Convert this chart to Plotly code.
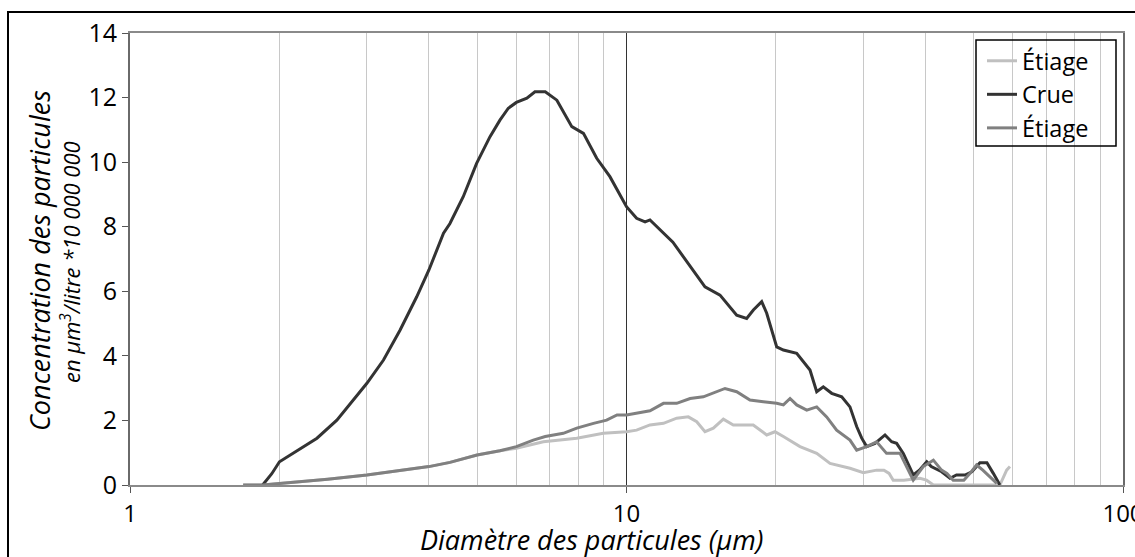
import plotly.graph_objects as go

# Particle size distributions (diameter in µm, concentration in µm³/litre ×10 000 000)
etiage1_d = [1.69, 1.85, 2.0, 2.5, 3.0, 3.5, 4.0, 4.41, 5.0, 5.56, 6.0, 6.8, 7.94, 8.98,
             10.0, 10.48, 11.15, 11.87, 12.62, 13.32, 13.85, 14.39, 14.96, 15.67, 16.41,
             17.19, 18.0, 19.16, 19.91, 20.7, 22.36, 24.16, 25.7, 28.19, 30.0, 31.9, 33.0,
             33.8, 34.45, 36.2, 39.0, 40.2, 41.5, 56.5, 58.3, 59.2]
etiage1_v = [0.0, 0.0, 0.05, 0.18, 0.31, 0.44, 0.57, 0.70, 0.93, 1.06, 1.14, 1.34, 1.45, 1.60,
             1.65, 1.70, 1.86, 1.91, 2.07, 2.11, 1.96, 1.65, 1.76, 2.04, 1.86,
             1.86, 1.86, 1.55, 1.65, 1.50, 1.19, 0.98, 0.67, 0.52, 0.38, 0.46, 0.46,
             0.36, 0.15, 0.15, 0.21, 0.15, 0.0, 0.0, 0.46, 0.57]

crue_d = [1.85, 1.93, 2.0, 2.13, 2.38, 2.61, 2.82, 3.0, 3.24, 3.5, 3.78, 4.0, 4.28, 4.41,
          4.69, 4.99, 5.31, 5.56, 5.78, 6.0, 6.3, 6.54, 6.86, 7.24, 7.76, 8.19, 8.71, 9.26,
          10.0, 10.48, 10.9, 11.15, 12.4, 13.43, 14.39, 15.43, 16.67, 17.46, 18.01, 18.72,
          19.16, 20.07, 20.7, 22.02, 23.42, 24.16, 24.91, 25.9, 27.13, 28.19, 29.08, 29.77,
          30.46, 31.66, 33.16, 34.2, 35.0, 36.1, 37.8, 38.9, 40.24, 41.1, 43.13, 44.83,
          46.2, 48.06, 49.6, 51.5, 53.2, 54.8, 56.5]
crue_v = [0.0, 0.35, 0.72, 0.98, 1.45, 2.01, 2.63, 3.15, 3.87, 4.80, 5.83, 6.66, 7.80, 8.10,
          8.93, 9.96, 10.79, 11.30, 11.67, 11.85, 11.98, 12.18, 12.18, 11.92, 11.10, 10.89, 10.12, 9.55,
          8.62, 8.26, 8.15, 8.21, 7.52, 6.78, 6.14, 5.88, 5.26, 5.16, 5.42, 5.68,
          5.32, 4.28, 4.18, 4.08, 3.56, 2.89, 3.04, 2.84, 2.73, 2.42, 1.81, 1.45,
          1.19, 1.29, 1.55, 1.34, 1.29, 0.98, 0.31, 0.46, 0.72, 0.57, 0.41, 0.21,
          0.31, 0.31, 0.41, 0.69, 0.69, 0.36, 0.0]

etiage2_d = [1.69, 1.85, 2.0, 2.5, 3.0, 3.5, 4.0, 4.41, 5.0, 5.56, 6.0, 6.49, 6.86, 7.46,
             7.94, 8.58, 9.12, 9.57, 10.0, 11.15, 11.87, 12.62, 13.43, 14.28, 15.19, 15.79,
             16.67, 17.73, 18.86, 20.07, 20.7, 21.35, 22.02, 23.07, 24.16, 25.3, 26.5, 28.19,
             29.08, 30.46, 31.9, 33.4, 35.56, 37.24, 37.8, 39.6, 41.5, 43.1, 44.2, 45.5,
             47.8, 49.2, 50.7, 52.2, 53.8, 55.7]
etiage2_v = [0.0, 0.0, 0.05, 0.18, 0.31, 0.44, 0.57, 0.70, 0.93, 1.06, 1.19, 1.39, 1.50, 1.60,
             1.76, 1.91, 2.01, 2.17, 2.17, 2.30, 2.53, 2.53, 2.68, 2.73, 2.89, 2.99,
             2.89, 2.63, 2.58, 2.53, 2.48, 2.68, 2.48, 2.32, 2.42, 2.11, 1.70, 1.39,
             1.08, 1.19, 1.34, 0.98, 0.98, 0.36, 0.15, 0.57, 0.77, 0.46, 0.36, 0.15,
             0.15, 0.36, 0.62, 0.46, 0.26, 0.05]

major_ticks = [1, 10, 100]
minor_ticks = [2, 3, 4, 5, 6, 7, 8, 9, 20, 30, 40, 50, 60, 70, 80, 90]
y_ticks = [0, 2, 4, 6, 8, 10, 12, 14]

FONT = "Open Sans"

# Plot area in pixels: x 130..1123, y 33..485
PX_L, PX_R, PX_T, PX_B = 130, 1123, 33, 485
def px(x):
    return (x - PX_L) / (PX_R - PX_L)
def py(y):
    return (PX_B - y) / (PX_B - PX_T)

fig = go.Figure()
fig.add_trace(go.Scatter(x=etiage1_d, y=etiage1_v, mode="lines", name="Étiage",
                         line=dict(color="#c0c0c0", width=3)))
fig.add_trace(go.Scatter(x=crue_d, y=crue_v, mode="lines", name="Crue",
                         line=dict(color="#333333", width=3)))
fig.add_trace(go.Scatter(x=etiage2_d, y=etiage2_v, mode="lines", name="Étiage",
                         line=dict(color="#808080", width=3)))

fig.update_layout(
    width=1135, height=557,
    margin=dict(l=PX_L, r=1135 - PX_R, t=PX_T, b=557 - PX_B),
    paper_bgcolor="white", plot_bgcolor="white",
    font=dict(family=FONT, size=24, color="black"),
    showlegend=True,
    legend=dict(x=px(982), y=py(39), xanchor="left", yanchor="top",
                bgcolor="rgba(0,0,0,0)", borderwidth=0,
                font=dict(family=FONT, size=23.5), tracegroupgap=0,
                itemwidth=30),
    xaxis=dict(type="log", range=[0, 2], tickmode="array", tickvals=major_ticks,
               ticktext=[str(t) for t in major_ticks], ticklabeloverflow="allow",
               automargin=False,
               showgrid=True, gridcolor="#333333", gridwidth=1,
               minor=dict(tickmode="array", tickvals=minor_ticks, showgrid=True,
                          gridcolor="#c8c8c8", gridwidth=1, ticks=""),
               showline=True, linecolor="#8a8a8a", linewidth=2, mirror=True,
               ticks="outside", ticklen=6, tickcolor="#555555", zeroline=False,
               tickfont=dict(size=24)),
    yaxis=dict(range=[0, 14], tickmode="array", tickvals=y_ticks, showgrid=False,
               automargin=False,
               showline=True, linecolor="#6a6a6a", linewidth=2, mirror=True,
               ticks="outside", ticklen=6, tickcolor="#555555", zeroline=False,
               tickfont=dict(size=25)),
)

# Axis titles
fig.add_annotation(text="<i>Diamètre des particules (µm)</i>", xref="paper", yref="paper",
                   x=px(591), y=py(539), xanchor="center", yanchor="middle",
                   showarrow=False, font=dict(family=FONT, size=27))
fig.add_annotation(text="<i>Concentration des particules</i>", xref="paper", yref="paper",
                   x=px(39), y=py(261), xanchor="center", yanchor="middle",
                   textangle=-90, showarrow=False, font=dict(family=FONT, size=27))
fig.add_annotation(text="<i>en µm<sup>3</sup>/litre *10 000 000</i>", xref="paper", yref="paper",
                   x=px(70), y=py(262), xanchor="center", yanchor="middle",
                   textangle=-90, showarrow=False, font=dict(family=FONT, size=22))

# Legend frame
fig.add_shape(type="rect", xref="paper", yref="paper",
              x0=px(976), x1=px(1116), y0=py(146), y1=py(40),
              line=dict(color="black", width=1.5), fillcolor="rgba(0,0,0,0)", layer="above")

# Outer frame
fig.add_shape(type="rect", xref="paper", yref="paper",
              x0=px(8), x1=px(1145), y0=py(570), y1=py(12),
              line=dict(color="black", width=2), fillcolor="rgba(0,0,0,0)", layer="below")

fig.write_html("out.html")
